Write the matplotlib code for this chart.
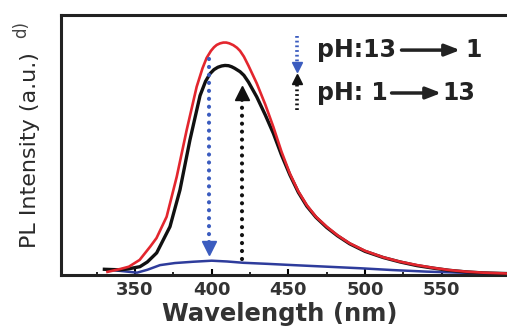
import numpy as np
import matplotlib
matplotlib.use('Agg')
import matplotlib.pyplot as plt

# PL spectra (wavelength in nm, intensity in a.u.)
wl_red = [332, 341, 346, 353, 360, 364, 370.6, 377.2, 383.7, 390.2, 394, 396.7, 399.5, 401.5,
          403.3, 405.5, 407.6, 409.5, 411.5, 414.1, 416.5, 418.5, 421, 424, 429.4, 435,
          440.2, 445.5, 451, 456.5, 462, 468, 475, 482, 490, 500, 512, 523, 534, 545, 555,
          566, 577, 596]
int_red = [0.012, 0.024, 0.032, 0.058, 0.11, 0.142, 0.224, 0.378, 0.558, 0.724, 0.795, 0.835,
           0.862, 0.876, 0.885, 0.891, 0.894, 0.894, 0.891, 0.884, 0.874, 0.862, 0.84, 0.805,
           0.737, 0.655, 0.57, 0.475, 0.39, 0.322, 0.269, 0.224, 0.186, 0.153, 0.122, 0.093,
           0.068, 0.051, 0.038, 0.027, 0.019, 0.013, 0.009, 0.005]

wl_black = [330, 340, 346, 353.2, 358, 364.1, 372.8, 379.3, 385.8, 392.4, 396, 399, 401.5,
            404, 406.5, 408.7, 411, 413, 415, 418.5, 421, 424, 429.4, 435, 440.2, 445.5, 451,
            456.5, 462, 468, 475, 482, 490, 500, 512, 523, 534, 545, 555, 566, 577, 596]
int_black = [0.022, 0.02, 0.024, 0.032, 0.05, 0.085, 0.186, 0.327, 0.519, 0.69, 0.745, 0.775,
             0.79, 0.799, 0.804, 0.806, 0.805, 0.801, 0.795, 0.782, 0.768, 0.742, 0.685, 0.615,
             0.545, 0.462, 0.385, 0.318, 0.265, 0.222, 0.183, 0.151, 0.12, 0.091, 0.067, 0.05,
             0.036, 0.026, 0.018, 0.012, 0.008, 0.005]

wl_blue = [330.4, 340, 351.3, 358, 366.3, 376, 388, 400, 410, 420.6, 436, 453.2, 475,
           496.7, 518, 540.2, 562, 583.5, 596]
int_blue = [0.022, 0.016, 0.009, 0.02, 0.038, 0.046, 0.051, 0.055, 0.052, 0.047, 0.043,
            0.038, 0.032, 0.026, 0.019, 0.013, 0.009, 0.0065, 0.005]

# pH switching arrows: (wavelength, start, end)
arrow_down = (398.5, 0.83, 0.075)
arrow_up = (419.5, 0.06, 0.73)

ticks_major = [350, 400, 450, 500, 550]
ticks_minor = [325, 375, 425, 475, 525, 575]

fig = plt.figure(figsize=(5.07, 3.28), dpi=100)
ax = fig.add_axes([61 / 507, 53 / 328, 451 / 507, 260 / 328])

ax.plot(wl_blue, int_blue, color='#2e3c9c', lw=1.8, zorder=3)
ax.plot(wl_black, int_black, color='#111111', lw=2.4, zorder=4)
ax.plot(wl_red, int_red, color='#e3262e', lw=1.9, zorder=5)

# dotted arrows inside the plot
dots = dict(lw=3, ls=(0, (0.01, 1.9)), dash_capstyle='round', zorder=6)
x, y0, y1 = arrow_down
ax.plot([x, x], [y0, y1 + 0.04], color='#3b5cbf', **dots)
ax.plot([x], [y1 + 0.03], marker='v', ms=10, color='#3b5cbf', zorder=6)
x, y0, y1 = arrow_up
ax.plot([x, x], [y0, y1 - 0.04], color='#111111', **dots)
ax.plot([x], [y1 - 0.03], marker='^', ms=10, color='#111111', zorder=6)

# key for the arrows
ax.plot([0.5226, 0.5226], [0.92, 0.815], transform=ax.transAxes, color='#3b5cbf',
        lw=2.6, ls=(0, (0.5, 0.8)), clip_on=False)
ax.plot([0.5226], [0.80], transform=ax.transAxes, marker='v', ms=7, color='#3b5cbf')
ax.plot([0.5226, 0.5226], [0.635, 0.745], transform=ax.transAxes, color='#111111',
        lw=2.6, ls=(0, (0.5, 0.8)), clip_on=False)
ax.plot([0.5226], [0.755], transform=ax.transAxes, marker='^', ms=7, color='#111111')

tfont = dict(fontsize=17, fontweight='bold', color='#222222', family='DejaVu Sans',
             transform=ax.transAxes, va='center', ha='left')
ax.text(0.567, 0.865, 'pH:13', **tfont)
ax.text(0.897, 0.865, '1', **tfont)
ax.text(0.567, 0.70, 'pH: 1', **tfont)
ax.text(0.845, 0.70, '13', **tfont)
ap = dict(arrowstyle='-|>,head_length=0.9,head_width=0.35', color='#222222', lw=2.5,
          shrinkA=0, shrinkB=0)
ax.annotate('', xy=(0.885, 0.865), xytext=(0.755, 0.865), xycoords='axes fraction',
            arrowprops=ap)
ax.annotate('', xy=(0.843, 0.70), xytext=(0.733, 0.70), xycoords='axes fraction',
            arrowprops=ap)

ax.set_xlim(301.7, 595.9)
ax.set_ylim(0, 1)
ax.set_xticks(ticks_major)
ax.set_xticks(ticks_minor, minor=True)
ax.set_yticks([])
ax.tick_params(axis='x', which='major', direction='in', length=4, width=1.5, pad=4,
               labelsize=13, labelcolor='#333333')
ax.tick_params(axis='x', which='minor', direction='in', length=2.5, width=1.2)
for lab in ax.get_xticklabels():
    lab.set_fontweight('bold')
for s in ax.spines.values():
    s.set_linewidth(2.2)
    s.set_color('#222222')

fig.text(280 / 507, 1 - 314 / 328, 'Wavelength (nm)', ha='center', va='center',
         fontsize=17.5, fontweight='bold', color='#333333')
fig.text(30 / 507, 1 - 150 / 328, 'PL Intensity (a.u.)', rotation=90, ha='center',
         va='center', fontsize=16, color='#2a2a2a')
fig.text(21 / 507, 1 - 30 / 328, 'd)', rotation=90, ha='center', va='center',
         fontsize=12, color='#444444')

fig.savefig('out.png', dpi=100)
